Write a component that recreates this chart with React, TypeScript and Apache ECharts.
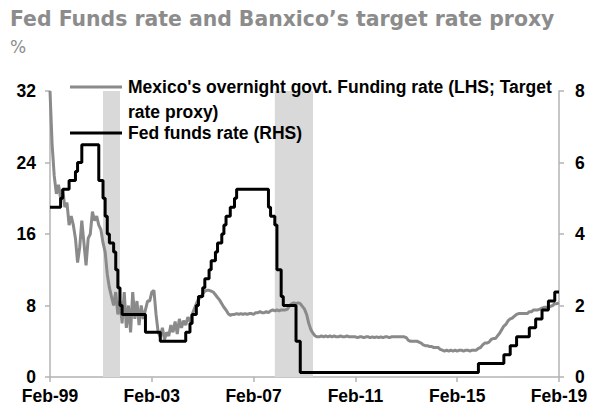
import React, { useEffect, useRef } from "react";
import * as echarts from "echarts";

// Categories: monthly, Feb-99 .. Feb-19
const monthNames = ["Jan", "Feb", "Mar", "Apr", "May", "Jun", "Jul", "Aug", "Sep", "Oct", "Nov", "Dec"];
const months: string[] = [];
for (let y = 1999; y <= 2019; y++) {
  for (let m = 0; m < 12; m++) {
    if (y === 1999 && m < 1) continue;
    if (y === 2019 && m > 1) continue;
    months.push(monthNames[m] + "-" + String(y).slice(2));
  }
}

// Mexico's overnight govt. funding rate (LHS, %)
const mex1999 = [32.0, 26.0, 22.5, 20.5, 21.5, 20.0, 21.0, 19.0, 19.5, 17.0, 18.0];
const mex2000 = [17.0, 15.5, 12.8, 14.5, 17.5, 15.0, 12.5, 15.5, 16.0, 18.5, 17.5, 18.0];
const mex2001 = [17.0, 16.5, 15.0, 14.0, 11.5, 10.0, 9.0, 8.0, 9.5, 7.0, 8.5, 6.0];
const mex2002 = [9.5, 5.5, 8.0, 5.0, 9.5, 6.5, 8.5, 5.8, 8.0, 6.5, 7.5, 8.5];
const mex2003 = [8.5, 9.5, 9.7, 7.0, 5.0, 4.5, 5.5, 4.2, 5.0, 4.6, 5.8, 5.0];
const mex2004 = [6.2, 4.8, 6.5, 5.5, 6.3, 5.8, 6.7, 6.2, 7.0, 7.6, 8.2, 8.7];
const mex2005 = [8.9, 9.3, 9.6, 9.7, 9.7, 9.6, 9.5, 9.2, 8.9, 8.6, 8.2, 7.8];
const mex2006 = [7.5, 7.1, 6.9, 7.0, 7.0, 7.1, 7.0, 7.1, 7.0, 7.1, 7.0, 7.1];
const mex2007 = [7.1, 7.0, 7.2, 7.2, 7.3, 7.2, 7.2, 7.3, 7.2, 7.4, 7.5, 7.4];
const mex2008 = [7.5, 7.4, 7.5, 7.5, 7.5, 7.6, 8.0, 8.2, 8.3, 8.2, 8.3, 8.2];
const mex2009 = [7.9, 7.6, 7.0, 6.0, 5.3, 4.9, 4.6, 4.5, 4.5, 4.6, 4.5, 4.6];
const mex2010 = [4.5, 4.6, 4.5, 4.6, 4.5, 4.5, 4.6, 4.5, 4.5, 4.6, 4.5, 4.5];
const mex2011 = [4.5, 4.5, 4.4, 4.5, 4.5, 4.4, 4.5, 4.5, 4.4, 4.5, 4.4, 4.5];
const mex2012 = [4.4, 4.5, 4.4, 4.5, 4.5, 4.4, 4.5, 4.5, 4.5, 4.5, 4.5, 4.5];
const mex2013 = [4.5, 4.4, 4.1, 4.0, 4.0, 4.0, 4.0, 3.9, 3.8, 3.6, 3.5, 3.5];
const mex2014 = [3.4, 3.4, 3.3, 3.3, 3.3, 3.1, 3.0, 2.9, 3.0, 2.9, 3.0, 2.9];
const mex2015 = [3.0, 2.9, 3.0, 3.0, 2.9, 3.0, 3.0, 2.9, 3.0, 3.0, 3.0, 3.2];
const mex2016 = [3.3, 3.6, 3.8, 3.8, 3.9, 4.2, 4.3, 4.3, 4.6, 4.9, 5.3, 5.7];
const mex2017 = [5.9, 6.3, 6.5, 6.6, 6.8, 7.0, 7.1, 7.1, 7.1, 7.1, 7.1, 7.3];
const mex2018 = [7.3, 7.5, 7.5, 7.5, 7.6, 7.7, 7.8, 7.8, 7.8, 7.9, 8.0, 8.2];
const mex2019 = [8.2, 8.3];

// Fed funds rate (RHS, %)
const fed1999 = [4.75, 4.75, 4.75, 4.75, 4.75, 5.0, 5.25, 5.25, 5.25, 5.5, 5.5];
const fed2000 = [5.5, 5.75, 6.0, 6.0, 6.5, 6.5, 6.5, 6.5, 6.5, 6.5, 6.5, 6.5];
const fed2001 = [5.5, 5.5, 5.0, 4.5, 4.0, 3.75, 3.75, 3.5, 3.0, 2.5, 2.0, 1.75];
const fed2002 = [1.75, 1.75, 1.75, 1.75, 1.75, 1.75, 1.75, 1.75, 1.75, 1.75, 1.25, 1.25];
const fed2003 = [1.25, 1.25, 1.25, 1.25, 1.25, 1.0, 1.0, 1.0, 1.0, 1.0, 1.0, 1.0];
const fed2004 = [1.0, 1.0, 1.0, 1.0, 1.0, 1.25, 1.25, 1.5, 1.75, 1.75, 2.0, 2.25];
const fed2005 = [2.25, 2.5, 2.75, 2.75, 3.0, 3.25, 3.25, 3.5, 3.75, 3.75, 4.0, 4.25];
const fed2006 = [4.5, 4.5, 4.75, 4.75, 5.0, 5.25, 5.25, 5.25, 5.25, 5.25, 5.25, 5.25];
const fed2007 = [5.25, 5.25, 5.25, 5.25, 5.25, 5.25, 5.25, 5.25, 4.75, 4.5, 4.5, 4.25];
const fed2008 = [3.0, 3.0, 2.25, 2.0, 2.0, 2.0, 2.0, 2.0, 2.0, 1.0, 1.0, 0.125];
const fed2009 = [0.125, 0.125, 0.125, 0.125, 0.125, 0.125, 0.125, 0.125, 0.125, 0.125, 0.125, 0.125];
const fed2010 = [0.125, 0.125, 0.125, 0.125, 0.125, 0.125, 0.125, 0.125, 0.125, 0.125, 0.125, 0.125];
const fed2011 = [0.125, 0.125, 0.125, 0.125, 0.125, 0.125, 0.125, 0.125, 0.125, 0.125, 0.125, 0.125];
const fed2012 = [0.125, 0.125, 0.125, 0.125, 0.125, 0.125, 0.125, 0.125, 0.125, 0.125, 0.125, 0.125];
const fed2013 = [0.125, 0.125, 0.125, 0.125, 0.125, 0.125, 0.125, 0.125, 0.125, 0.125, 0.125, 0.125];
const fed2014 = [0.125, 0.125, 0.125, 0.125, 0.125, 0.125, 0.125, 0.125, 0.125, 0.125, 0.125, 0.125];
const fed2015 = [0.125, 0.125, 0.125, 0.125, 0.125, 0.125, 0.125, 0.125, 0.125, 0.125, 0.125, 0.375];
const fed2016 = [0.375, 0.375, 0.375, 0.375, 0.375, 0.375, 0.375, 0.375, 0.375, 0.375, 0.375, 0.625];
const fed2017 = [0.625, 0.625, 0.875, 0.875, 0.875, 1.125, 1.125, 1.125, 1.125, 1.125, 1.125, 1.375];
const fed2018 = [1.375, 1.375, 1.625, 1.625, 1.625, 1.875, 1.875, 1.875, 2.125, 2.125, 2.125, 2.375];
const fed2019 = [2.375, 2.375];

// Recession periods (shaded)
const recessions = [
  ["Mar-01", "Nov-01"],
  ["Dec-07", "Jun-09"],
];

// Tick labels
const leftTicks = [0, 8, 16, 24, 32];
const rightTicks = [0, 2, 4, 6, 8];

const mexico = [
  ...mex1999, ...mex2000, ...mex2001, ...mex2002, ...mex2003, ...mex2004, ...mex2005,
  ...mex2006, ...mex2007, ...mex2008, ...mex2009, ...mex2010, ...mex2011, ...mex2012,
  ...mex2013, ...mex2014, ...mex2015, ...mex2016, ...mex2017, ...mex2018, ...mex2019,
];
const fed = [
  ...fed1999, ...fed2000, ...fed2001, ...fed2002, ...fed2003, ...fed2004, ...fed2005,
  ...fed2006, ...fed2007, ...fed2008, ...fed2009, ...fed2010, ...fed2011, ...fed2012,
  ...fed2013, ...fed2014, ...fed2015, ...fed2016, ...fed2017, ...fed2018, ...fed2019,
];

const FONT = "'Liberation Sans', Arial, sans-serif";
const AXIS_COLOR = "#b3b3b3";
const GRAY = "#8a8a8a";

export default function App() {
  const ref = useRef<HTMLDivElement>(null);
  useEffect(() => {
    if (!ref.current) return;
    const chart = echarts.init(ref.current, null, { renderer: "svg" });
    const labelStyle = { color: "#000", fontFamily: FONT, fontWeight: "bold" as const, fontSize: 17.5 };
    const legendFont = "bold 17.5px " + FONT;
    chart.setOption({
      animation: false,
      backgroundColor: "#fff",
      grid: { left: 50, right: 44, top: 91, bottom: 37, containLabel: false },
      xAxis: {
        type: "category",
        data: months,
        boundaryGap: false,
        axisLine: { lineStyle: { color: AXIS_COLOR, width: 1.5 } },
        axisTick: { interval: 47, length: 5, lineStyle: { color: AXIS_COLOR, width: 1.5 } },
        axisLabel: { interval: 47, margin: 10, ...labelStyle },
        splitLine: { show: false },
      },
      yAxis: [
        {
          type: "value",
          min: leftTicks[0],
          max: leftTicks[leftTicks.length - 1],
          interval: 8,
          axisLine: { show: true, lineStyle: { color: AXIS_COLOR, width: 1.5 } },
          axisTick: { show: true, length: 5, lineStyle: { color: AXIS_COLOR, width: 1.5 } },
          axisLabel: { margin: 14, ...labelStyle },
          splitLine: { show: false },
        },
        {
          type: "value",
          min: rightTicks[0],
          max: rightTicks[rightTicks.length - 1],
          interval: 2,
          position: "right",
          axisLine: { show: true, lineStyle: { color: AXIS_COLOR, width: 1.5 } },
          axisTick: { show: true, length: 5, lineStyle: { color: AXIS_COLOR, width: 1.5 } },
          axisLabel: { margin: 16, ...labelStyle },
          splitLine: { show: false },
        },
      ],
      series: [
        {
          name: "Mexico's overnight govt. Funding rate (LHS; Target rate proxy)",
          type: "line",
          yAxisIndex: 0,
          data: mexico,
          showSymbol: false,
          lineStyle: { color: GRAY, width: 3 },
          itemStyle: { color: GRAY },
          z: 2,
          markArea: {
            silent: true,
            itemStyle: { color: "#d9d9d9" },
            data: recessions.map(([a, b]) => [{ xAxis: a }, { xAxis: b }]),
          },
        },
        {
          name: "Fed funds rate (RHS)",
          type: "line",
          yAxisIndex: 1,
          step: "end",
          data: fed,
          showSymbol: false,
          lineStyle: { color: "#000", width: 3 },
          itemStyle: { color: "#000" },
          z: 3,
        },
      ],
      graphic: [
        {
          type: "text",
          left: 10,
          top: 9,
          style: {
            text: "Fed Funds rate and Banxico\u2019s target rate proxy",
            fill: "#8c8c8c",
            font: "bold 20.4px 'DejaVu Sans', sans-serif",
          },
        },
        {
          type: "text",
          left: 10,
          top: 38,
          style: { text: "%", fill: "#8c8c8c", font: "17px 'DejaVu Sans', sans-serif" },
        },
        {
          type: "line",
          shape: { x1: 70, y1: 87, x2: 122, y2: 87 },
          style: { stroke: GRAY, lineWidth: 3 },
          z: 10,
        },
        {
          type: "text",
          x: 128,
          y: 87,
          z: 10,
          style: {
            text: "Mexico's overnight govt. Funding rate (LHS; Target",
            fill: "#000",
            font: legendFont,
            verticalAlign: "middle",
          },
        },
        {
          type: "text",
          x: 128,
          y: 112,
          z: 10,
          style: { text: "rate proxy)", fill: "#000", font: legendFont, verticalAlign: "middle" },
        },
        {
          type: "line",
          shape: { x1: 70, y1: 133, x2: 122, y2: 133 },
          style: { stroke: "#000", lineWidth: 3 },
          z: 10,
        },
        {
          type: "text",
          x: 128,
          y: 133,
          z: 10,
          style: { text: "Fed funds rate (RHS)", fill: "#000", font: legendFont, verticalAlign: "middle" },
        },
      ],
    });
    return () => chart.dispose();
  }, []);
  return <div ref={ref} style={{ width: 603, height: 414, position: "absolute", left: 0, top: 0 }} />;
}
